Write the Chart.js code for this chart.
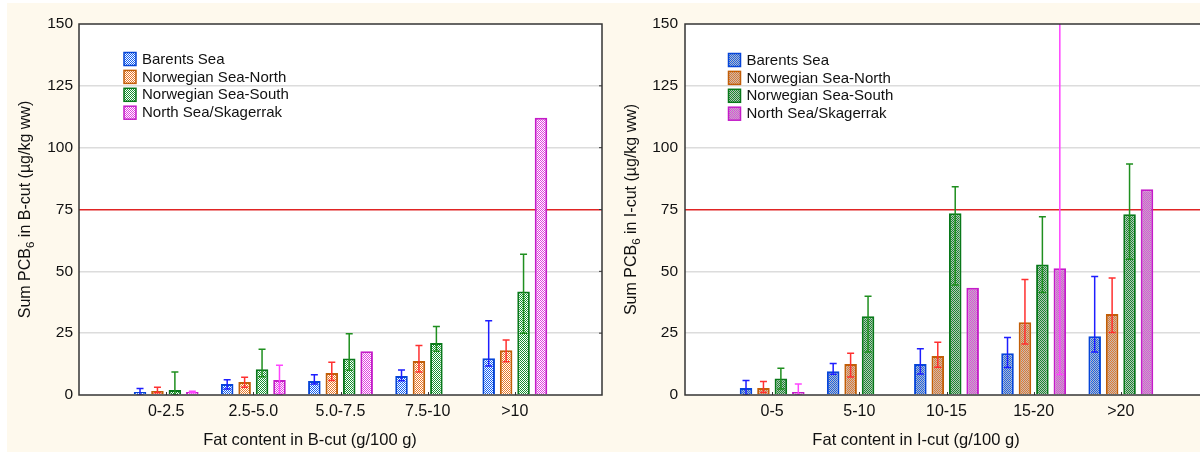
<!DOCTYPE html>
<html>
<head>
<meta charset="utf-8">
<script src="https://cdn.jsdelivr.net/npm/chart.js@4.4.0/dist/chart.umd.min.js"></script>
<style>
html,body{margin:0;padding:0;width:1200px;height:452px;overflow:hidden;background:#ffffff;}
#bg{position:absolute;left:7px;top:3px;width:1193px;height:449px;background:#fef9ed;}
#c1{position:absolute;left:0;top:0;}
#c2{position:absolute;left:600px;top:0;}
</style>
</head>
<body>
<div id="bg"></div>
<canvas id="c1" width="610" height="452"></canvas>
<canvas id="c2" width="620" height="452"></canvas>
<script>
// ---------- data ----------
const seriesNames = ['Barents Sea', 'Norwegian Sea-North', 'Norwegian Sea-South', 'North Sea/Skagerrak'];
const bCategories = ['0-2.5', '2.5-5.0', '5.0-7.5', '7.5-10', '>10'];
const iCategories = ['0-5', '5-10', '10-15', '15-20', '>20'];
const yTickStep = 25;
const yMin = 0;
const yMax = 150;
const limitValue = 75;

// B-cut (mean, lower and upper error limits)
const bBarents      = [1.2, 4.4, 5.7, 7.7, 14.9];
const bBarentsLow   = [0.0, 2.4, 4.4, 5.8, 11.7];
const bBarentsHigh  = [2.6, 6.2, 8.2, 10.1, 30.0];
const bNorwNorth     = [1.6, 5.3, 8.9, 13.7, 18.1];
const bNorwNorthLow  = [0.9, 3.1, 5.9, 9.3, 13.4];
const bNorwNorthHigh = [3.1, 7.2, 13.2, 20.0, 22.2];
const bNorwSouth     = [2.0, 10.4, 14.8, 21.0, 41.8];
const bNorwSouthLow  = [0.0, 7.4, 10.0, 17.7, 25.0];
const bNorwSouthHigh = [9.3, 18.5, 24.8, 27.7, 56.9];
const bNorthSea      = [1.2, 6.1, 17.7, null, 112.1];
const bNorthSeaLow   = [0.9, 0.3, null, null, null];
const bNorthSeaHigh  = [1.5, 12.0, null, null, null];

// I-cut
const iBarents      = [2.8, 9.6, 12.5, 16.9, 23.8];
const iBarentsLow   = [0.0, 8.4, 8.5, 11.1, 17.4];
const iBarentsHigh  = [5.9, 12.7, 18.7, 23.2, 47.9];
const iNorwNorth     = [2.8, 12.5, 15.8, 29.4, 32.7];
const iNorwNorthLow  = [1.0, 7.3, 11.2, 20.6, 25.3];
const iNorwNorthHigh = [5.5, 16.9, 21.3, 46.7, 47.3];
const iNorwSouth     = [6.7, 31.8, 73.5, 52.8, 73.1];
const iNorwSouthLow  = [2.4, 17.4, 44.5, 41.4, 54.9];
const iNorwSouthHigh = [10.8, 39.9, 84.2, 72.1, 93.4];
const iNorthSea      = [1.2, null, 43.4, 51.2, 83.2];
const iNorthSeaLow   = [0.0, null, null, 8.3, null];
const iNorthSeaHigh  = [4.4, null, null, 160, null];

// ---------- styles ----------
const FONT = '"Liberation Sans", Arial, sans-serif';
const fillColors   = ['#1560f0', '#e8782a', '#159030', '#e040e0'];
const borderColors = ['#0645d8', '#c25e08', '#08781a', '#c41cc8'];
const errColors    = ['#1e1eff', '#ff3030', '#1f8f1f', '#ff44ff'];

function makeTile(color, bg) {
  const c = document.createElement('canvas');
  c.width = 2; c.height = 2;
  const g = c.getContext('2d');
  g.fillStyle = bg; g.fillRect(0, 0, 2, 2);
  g.fillStyle = color; g.fillRect(0, 0, 1, 1); g.fillRect(1, 1, 1, 1);
  return c;
}

function buildChart(canvasId, cfg) {
  const canvas = document.getElementById(canvasId);
  const ctx = canvas.getContext('2d');
  const patterns = fillColors.map(c => ctx.createPattern(makeTile(c, cfg.tileBg), 'repeat'));

  const datasets = cfg.values.map((vals, k) => ({
    label: seriesNames[k],
    data: vals.map((v, i) => ({ x: i + 1, y: v })),
    backgroundColor: patterns[k],
    borderColor: borderColors[k],
    borderWidth: 2,
    categoryPercentage: 0.8,
    barPercentage: 0.72
  }));

  const deco = {
    id: 'deco',
    beforeDraw(chart) {
      const a = chart.chartArea, c = chart.ctx;
      c.save();
      c.fillStyle = '#ffffff';
      c.fillRect(a.left, a.top, a.right - a.left, a.bottom - a.top);
      c.restore();
    },
    afterDatasetsDraw(chart) {
      const a = chart.chartArea, c = chart.ctx;
      const ys = chart.scales.y, xs = chart.scales.x;
      // error bars
      c.save();
      c.beginPath();
      c.rect(a.left, a.top, a.right - a.left, a.bottom - a.top);
      c.clip();
      chart.data.datasets.forEach((ds, k) => {
        const meta = chart.getDatasetMeta(k);
        const lo = cfg.lows[k], hi = cfg.highs[k];
        meta.data.forEach((bar, i) => {
          if (hi[i] == null || lo[i] == null) return;
          const x = bar.x;
          const yH = ys.getPixelForValue(hi[i]);
          const yL = ys.getPixelForValue(lo[i]);
          c.strokeStyle = errColors[k];
          c.lineWidth = 1.5;
          c.beginPath();
          c.moveTo(x, yL); c.lineTo(x, yH);
          c.moveTo(x - 3.5, yH); c.lineTo(x + 3.5, yH);
          c.moveTo(x - 3.5, yL); c.lineTo(x + 3.5, yL);
          c.stroke();
        });
      });
      c.restore();

      // frame
      c.save();
      c.strokeStyle = '#353535';
      c.lineWidth = 1.5;
      c.strokeRect(a.left, a.top, a.right - a.left, a.bottom - a.top);
      // inner ticks
      c.lineWidth = 1;
      c.beginPath();
      for (let i = 1; i <= cfg.cats.length; i++) {
        const px = Math.round(xs.getPixelForValue(i)) + 0.5;
        c.moveTo(px, a.bottom); c.lineTo(px, a.bottom - 3);
      }
      for (let v = yMin + yTickStep; v < yMax; v += yTickStep) {
        const py = ys.getPixelForValue(v);
        c.moveTo(a.right, py); c.lineTo(a.right - 3, py);
      }
      c.stroke();

      // legend
      c.font = '15px ' + FONT;
      c.textBaseline = 'middle';
      c.textAlign = 'left';
      seriesNames.forEach((name, k) => {
        const cy = a.top + cfg.legendTop + k * 17.9;
        const bx = a.left + cfg.legendLeft;
        c.fillStyle = patterns[k];
        c.fillRect(bx, cy - 6.5, 12, 13);
        c.strokeStyle = borderColors[k];
        c.lineWidth = 1.5;
        c.strokeRect(bx, cy - 6.5, 12, 13);
        c.fillStyle = '#111';
        c.fillText(name, bx + 18, cy + 0.5);
      });

      // x title
      c.font = '16.5px ' + FONT;
      c.fillStyle = '#111';
      c.textAlign = 'center';
      c.fillText(cfg.xTitle, a.left + 0.4417 * (a.right - a.left), 440);

      // y title with subscript
      c.translate(a.left - 53, (a.top + a.bottom) / 2);
      c.rotate(-Math.PI / 2);
      c.textAlign = 'left';
      const p1 = 'Sum PCB', p2 = '6', p3 = cfg.yTitleRest;
      c.font = '16px ' + FONT;
      const w1 = c.measureText(p1).width, w3 = c.measureText(p3).width;
      c.font = '11.5px ' + FONT;
      const w2 = c.measureText(p2).width;
      let x0 = -(w1 + w2 + w3) / 2;
      c.font = '16px ' + FONT;
      c.fillText(p1, x0, 0);
      c.font = '11.5px ' + FONT;
      c.fillText(p2, x0 + w1, 4.5);
      c.font = '16px ' + FONT;
      c.fillText(p3, x0 + w1 + w2, 0);
      c.restore();
    }
  };

  return new Chart(ctx, {
    type: 'bar',
    data: { datasets },
    options: {
      responsive: false,
      animation: false,
      layout: { padding: { top: 24, right: cfg.padRight, left: 0, bottom: 0 } },
      plugins: { legend: { display: false }, tooltip: { enabled: false } },
      scales: {
        x: {
          type: 'linear',
          offset: false,
          min: 0,
          max: cfg.cats.length + 1,
          grid: { display: false, drawTicks: false, offset: false },
          border: { display: false },
          ticks: {
            stepSize: 1,
            autoSkip: false,
            maxRotation: 0,
            padding: 7,
            color: '#111',
            font: { family: FONT, size: 16 },
            callback: v => cfg.cats[v - 1] ?? ''
          },
          afterFit: s => { s.height = 57; }
        },
        y: {
          min: yMin,
          max: yMax,
          grid: {
            drawTicks: false,
            color: c => c.tick.value === limitValue ? '#e02424' :
              (c.tick.value === yMin || c.tick.value === yMax) ? 'rgba(0,0,0,0)' : '#dcdcdc',
            lineWidth: 1.5
          },
          border: { display: false },
          ticks: {
            stepSize: yTickStep,
            padding: cfg.yPad,
            color: '#111',
            font: { family: FONT, size: 15.5 }
          },
          afterFit: s => { s.width = cfg.yAxisWidth; }
        }
      }
    },
    plugins: [deco]
  });
}

buildChart('c1', {
  cats: bCategories,
  values: [bBarents, bNorwNorth, bNorwSouth, bNorthSea],
  lows: [bBarentsLow, bNorwNorthLow, bNorwSouthLow, bNorthSeaLow],
  highs: [bBarentsHigh, bNorwNorthHigh, bNorwSouthHigh, bNorthSeaHigh],
  xTitle: 'Fat content in B-cut (g/100 g)',
  yTitleRest: ' in B-cut (µg/kg ww)',
  yAxisWidth: 79,
  yPad: 6,
  padRight: 8,
  legendLeft: 45,
  legendTop: 35,
  tileBg: '#ffffff'
});

buildChart('c2', {
  cats: iCategories,
  values: [iBarents, iNorwNorth, iNorwSouth, iNorthSea],
  lows: [iBarentsLow, iNorwNorthLow, iNorwSouthLow, iNorthSeaLow],
  highs: [iBarentsHigh, iNorwNorthHigh, iNorwSouthHigh, iNorthSeaHigh],
  xTitle: 'Fat content in I-cut (g/100 g)',
  yTitleRest: ' in I-cut (µg/kg ww)',
  yAxisWidth: 85,
  yPad: 7,
  padRight: 12,
  legendLeft: 43.5,
  legendTop: 36,
  tileBg: '#bdbdbd'
});
</script>
</body>
</html>
